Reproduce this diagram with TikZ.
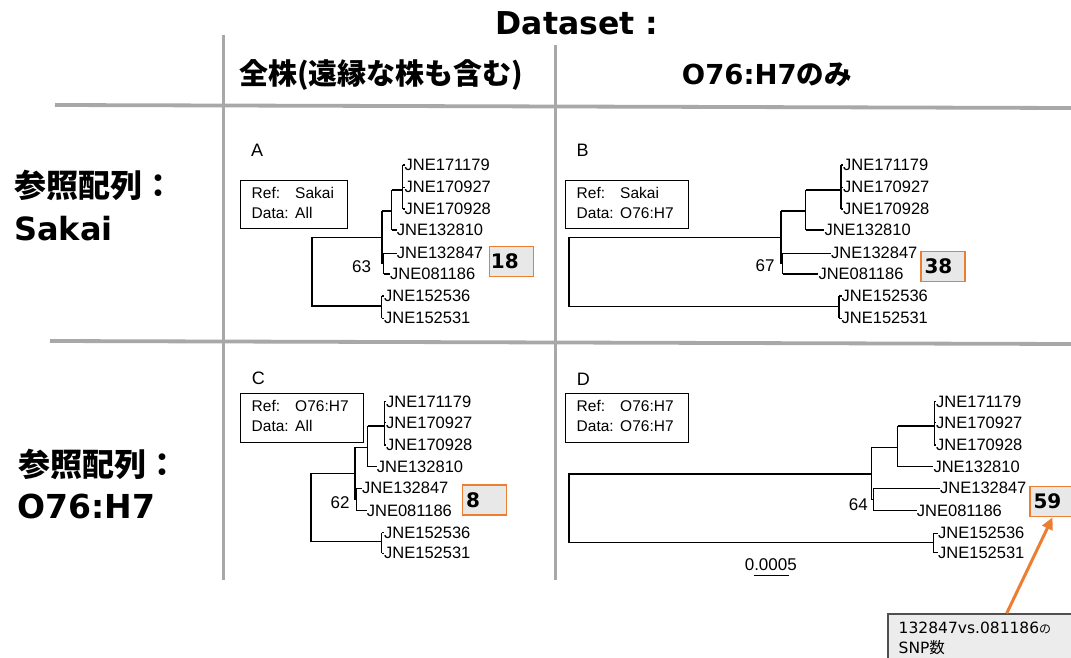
\documentclass[tikz,border=0pt]{standalone}
\usepackage{fontspec}
\setmainfont{Liberation Sans}
\newfontfamily\dv{DejaVu Sans}
\newfontfamily\cjk{Noto Sans CJK JP}
\usetikzlibrary{arrows.meta}
\definecolor{gridgray}{RGB}{168,168,168}
\definecolor{snporange}{RGB}{237,125,49}
\definecolor{snpfill}{RGB}{232,232,232}
\definecolor{callfill}{RGB}{236,236,236}
\definecolor{callline}{RGB}{80,80,80}
\newcommand\myleaf[4]{\node[leaf] (#1) at (#2) {#4}; \draw[br] (#3) -- (#1.west);}
\begin{document}
\begin{tikzpicture}[x=1pt,y=-1pt,
  gridline/.style={gridgray, line width=3.8pt},
  br/.style={black, line width=1.15pt},
  leaf/.style={anchor=west, inner sep=0pt, font=\fontsize{16.5}{19}\selectfont},
  boot/.style={inner sep=0pt, font=\fontsize{17}{19}\selectfont},
  panel/.style={inner sep=0pt, font=\fontsize{18}{20}\selectfont},
  refbox/.style={draw, black, line width=1.1pt, inner sep=0pt, anchor=north west},
  reftext/.style={anchor=west, inner sep=0pt, font=\fontsize{15.5}{20}\selectfont},
  snpbox/.style={draw=snporange, fill=snpfill, line width=1.3pt, inner sep=0pt, minimum width=44pt, minimum height=30pt},
  snpnum/.style={anchor=west, inner sep=0pt, font=\dv\bfseries\fontsize{20}{22}\selectfont},
  rowhead/.style={anchor=base west, inner sep=0pt},
]
\useasboundingbox (0,0) rectangle (1071,658);
\clip (0,0) rectangle (1071,658);
\fill[white] (0,0) rectangle (1071,658);

% ---- grid ----
\draw[gridline] (55,105) -- (1071,108);
\draw[gridline] (50,341) -- (1071,344);
\draw[gridgray, line width=3pt] (223.5,35) -- (223.5,580);
\draw[gridgray, line width=3pt] (555.5,45) -- (555.5,580);

% ---- headers ----
\node[inner sep=0pt, font=\dv\bfseries\fontsize{31.5}{36}\selectfont] (ds) at (577,23.5) {Dataset :};
\node[rowhead, font=\cjk\bfseries\fontsize{29}{34}\selectfont] (col1) at (239,85) {全株(遠縁な株も含む)};
\node[rowhead] (col2) at (681.7,85) {\dv\bfseries\fontsize{27.5}{32}\selectfont O76:H7{\cjk\bfseries のみ}};
\node[rowhead, font=\cjk\bfseries\fontsize{32}{36}\selectfont] (row1a) at (14,197) {参照配列：};
\node[rowhead, font=\dv\bfseries\fontsize{32}{36}\selectfont] (row1b) at (14,240) {Sakai};
\node[rowhead, font=\cjk\bfseries\fontsize{32}{36}\selectfont] (row2a) at (18,476) {参照配列：};
\node[rowhead, font=\dv\bfseries\fontsize{33}{36}\selectfont] (row2b) at (17,518) {O76:H7};

% ---- panel labels ----
\node[panel] (lA) at (257,150.5) {A};
\node[panel] (lB) at (582.5,150.5) {B};
\node[panel] (lC) at (258.3,378.3) {C};
\node[panel] (lD) at (583.3,379) {D};

% ---- ref boxes ----
\node[refbox, minimum width=107pt, minimum height=48pt] (rA) at (240,180) {};
\node[reftext] (tA) at ([xshift=11.5pt]rA.west) {\begin{tabular}{@{}l@{\hspace{6.5pt}}l@{}}Ref: & Sakai\\Data: & All\end{tabular}};
\node[refbox, minimum width=123pt, minimum height=48pt] (rB) at (565,180) {};
\node[reftext] (tB) at ([xshift=11.5pt]rB.west) {\begin{tabular}{@{}l@{\hspace{6.5pt}}l@{}}Ref: & Sakai\\Data: & O76:H7\end{tabular}};
\node[refbox, minimum width=123pt, minimum height=49pt] (rC) at (240,392.7) {};
\node[reftext] (tC) at ([xshift=11.5pt]rC.west) {\begin{tabular}{@{}l@{\hspace{6.5pt}}l@{}}Ref: & O76:H7\\Data: & All\end{tabular}};
\node[refbox, minimum width=123pt, minimum height=49pt] (rD) at (565,392.7) {};
\node[reftext] (tD) at ([xshift=11.5pt]rD.west) {\begin{tabular}{@{}l@{\hspace{6.5pt}}l@{}}Ref: & O76:H7\\Data: & O76:H7\end{tabular}};

% ================= Tree A =================
\draw[br] (382,237.3) -- (312,237.3) -- (312,306) -- (381.7,306);
\draw[br] (382,211) -- (382,263.5) -- (383.5,263.5);
\draw[br] (383.5,253.3) -- (383.5,274);
\draw[br] (382,211) -- (391.7,211);
\draw[br] (391.7,190) -- (391.7,230);
\draw[br] (391.7,190) -- (402.7,190);
\draw[br] (402.7,165) -- (402.7,209);
\draw[br] (381.7,296) -- (381.7,318.3);
\myleaf{A1}{404.5,165}{402.7,165}{JNE171179}
\myleaf{A2}{404.5,187.3}{402.7,187.3}{JNE170927}
\myleaf{A3}{404.5,209}{402.7,209}{JNE170928}
\myleaf{A4}{396.7,230}{391.7,230}{JNE132810}
\myleaf{A5}{396.7,253.3}{383.5,253.3}{JNE132847}
\myleaf{A6}{390,274}{383.5,274}{JNE081186}
\myleaf{A7}{384,296}{381.7,296}{JNE152536}
\myleaf{A8}{384,318.3}{381.7,318.3}{JNE152531}
\node[boot] (bA) at (361.7,266.7) {63};
\node[snpbox] (s18) at (511.3,261.7) {};
\node[snpnum] (n18) at ([xshift=2pt]s18.west) {18};

% ================= Tree B =================
\draw[br] (781,237.3) -- (569,237.3) -- (569,306.7) -- (839,306.7);
\draw[br] (781,211) -- (781,263.5) -- (782.5,263.5);
\draw[br] (782.5,253.3) -- (782.5,274);
\draw[br] (781,211) -- (805.7,211);
\draw[br] (805.7,190) -- (805.7,230);
\draw[br] (805.7,190) -- (841,190);
\draw[br] (841,165) -- (841,209);
\draw[br] (839,296) -- (839,318.3);
\myleaf{B1}{843,165}{841,165}{JNE171179}
\myleaf{B2}{843,187.3}{841,187.3}{JNE170927}
\myleaf{B3}{843,209}{841,209}{JNE170928}
\myleaf{B4}{824.3,230}{805.7,230}{JNE132810}
\myleaf{B5}{831,253.3}{782.5,253.3}{JNE132847}
\myleaf{B6}{818.3,274}{782.5,274}{JNE081186}
\myleaf{B7}{841.5,296}{839,296}{JNE152536}
\myleaf{B8}{841.5,318.3}{839,318.3}{JNE152531}
\node[boot] (bB) at (765,266) {67};
\node[snpbox] (s38) at (943,266.7) {};
\node[snpnum] (n38) at ([xshift=4pt]s38.west) {38};

% ================= Tree C =================
\draw[br] (355,473.3) -- (311,473.3) -- (311,541.7) -- (381.7,541.7);
\draw[br] (355,447.3) -- (355,499.5) -- (356.5,499.5);
\draw[br] (356.5,488.3) -- (356.5,510.7);
\draw[br] (355,447.3) -- (367.7,447.3);
\draw[br] (367.7,426) -- (367.7,466.7);
\draw[br] (367.7,426) -- (384.3,426);
\draw[br] (384.3,401.7) -- (384.3,445);
\draw[br] (381.7,532.7) -- (381.7,553.3);
\myleaf{C1}{386,401.7}{384.3,401.7}{JNE171179}
\myleaf{C2}{386,422.7}{384.3,422.7}{JNE170927}
\myleaf{C3}{386,445}{384.3,445}{JNE170928}
\myleaf{C4}{376.7,466.7}{367.7,466.7}{JNE132810}
\myleaf{C5}{362,488.3}{356.5,488.3}{JNE132847}
\myleaf{C6}{366.7,510.7}{356.5,510.7}{JNE081186}
\myleaf{C7}{384,532.7}{381.7,532.7}{JNE152536}
\myleaf{C8}{384,553.3}{381.7,553.3}{JNE152531}
\node[boot] (bC) at (340,502.7) {62};
\node[snpbox] (s8) at (484.5,500) {};
\node[snpnum] (n8) at ([xshift=4pt]s8.west) {8};

% ================= Tree D =================
\draw[br] (871.7,474) -- (569,474) -- (569,542.7) -- (933.3,542.7);
\draw[br] (871.7,447.3) -- (871.7,499.5) -- (873.3,499.5);
\draw[br] (873.3,488.3) -- (873.3,510.7);
\draw[br] (871.7,447.3) -- (897.7,447.3);
\draw[br] (897.7,426) -- (897.7,466.7);
\draw[br] (897.7,426) -- (934.3,426);
\draw[br] (934.3,401.7) -- (934.3,445);
\draw[br] (933.3,533.3) -- (933.3,552.7);
\myleaf{D1}{936,401.7}{934.3,401.7}{JNE171179}
\myleaf{D2}{936,422.7}{934.3,422.7}{JNE170927}
\myleaf{D3}{936,445}{934.3,445}{JNE170928}
\myleaf{D4}{933.3,466.7}{897.7,466.7}{JNE132810}
\myleaf{D5}{940,488.3}{873.3,488.3}{JNE132847}
\myleaf{D6}{916.7,510.7}{873.3,510.7}{JNE081186}
\myleaf{D7}{938,533.3}{933.3,533.3}{JNE152536}
\myleaf{D8}{938,552.7}{933.3,552.7}{JNE152531}
\node[boot] (bD) at (858.3,505) {64};
\node[snpbox, minimum width=45pt] (s59) at (1052.5,501.7) {};
\node[snpnum] (n59) at ([xshift=4pt]s59.west) {59};

% ---- scale bar ----
\node[inner sep=0pt, font=\fontsize{17}{19}\selectfont] (sc) at (770.8,565) {0.0005};
\coordinate (scL) at (753.5,575.5);
\coordinate (scR) at (789.3,575.5);
\draw[br] (scL) -- (scR);

% ---- callout ----
\node[draw=callline, fill=callfill, line width=1.2pt, anchor=north west, minimum width=200pt, minimum height=60pt, inner sep=0pt] (call) at (887.3,613.3) {};
\node[anchor=base west, inner sep=0pt, font=\dv\fontsize{15.5}{20}\selectfont] (callt1) at (898.5,633) {132847vs.081186{\cjk\fontsize{12}{14}\selectfont の}};
\node[anchor=base west, inner sep=0pt, font=\dv\fontsize{15.5}{20}\selectfont] (callt2) at (898.5,653) {SNP{\cjk 数}};
\coordinate (tail) at (1006.7,613.3);
\draw[snporange, line width=3pt, -{Triangle[length=12pt,width=11pt]}] (tail) -- (s59.south);
\end{tikzpicture}
\end{document}
